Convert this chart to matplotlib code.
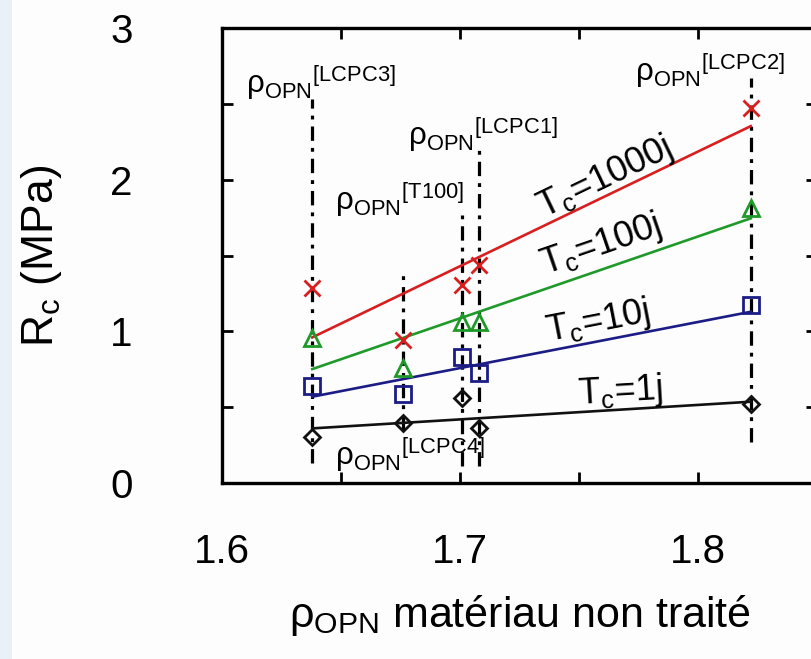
import matplotlib
matplotlib.use("Agg")
import matplotlib.pyplot as plt
from matplotlib.patches import Rectangle
import numpy as np

plt.rcParams['font.family'] = ['Liberation Sans', 'DejaVu Sans']
plt.rcParams['mathtext.fontset'] = 'custom'
plt.rcParams['mathtext.rm'] = 'Liberation Sans'
plt.rcParams['mathtext.it'] = 'Liberation Sans:italic'
plt.rcParams['mathtext.bf'] = 'Liberation Sans:bold'
plt.rcParams['mathtext.sf'] = 'Liberation Sans'

# ---- data ----
rho = [1.638, 1.676, 1.701, 1.708, 1.822]
rc_1000 = [1.283, 0.943, 1.305, 1.437, 2.470]
rc_100 = [0.957, 0.756, 1.063, 1.063, 1.811]
rc_10 = [0.639, 0.587, 0.829, 0.723, 1.173]
rc_1 = [0.305, 0.393, 0.558, 0.365, 0.519]

fit_x = [1.638, 1.822]
fit_1000 = [0.960, 2.353]
fit_100 = [0.751, 1.745]
fit_10 = [0.569, 1.129]
fit_1 = [0.360, 0.536]

series_labels = ['1000j', '100j', '10j', '1j']

vl_x = [1.638, 1.676, 1.701, 1.708, 1.822]
vl_bottom = [0.13, 0.35, 0.11, 0.11, 0.27]
vl_top = [2.53, 1.38, 1.77, 2.21, 2.67]

ref_names = ['LCPC3', 'LCPC4', 'T100', 'LCPC1', 'LCPC2']
ref_x = [1.6417, 1.679, 1.6748, 1.7097, 1.805]
ref_y = [2.643, 0.185, 1.866, 2.30, 2.72]

lab_x = [1.7608, 1.759, 1.758, 1.767]
lab_y = [2.01, 1.569, 1.061, 0.60]

# ---- figure ----
fig = plt.figure(figsize=(8.11, 6.59), dpi=100)
fig.patch.set_facecolor('#fdfdfd')
fig.patches.append(Rectangle((0, 0), 12 / 811, 1, transform=fig.transFigure,
                             facecolor='#e9f0f8', edgecolor='none', zorder=-1))

ax_w = 817.5 - 221.7
ax = fig.add_axes([221.7 / 811, 1 - 483 / 659, ax_w / 811, (483 - 28) / 659])
ax.set_facecolor('#fdfdfd')
ax.set_xlim(1.6, 1.85)
ax.set_ylim(0, 3)

colors = ['#d81e1e', '#1f9a2a', '#1c1c86', '#111111']
fits = [fit_1000, fit_100, fit_10, fit_1]
pts = [rc_1000, rc_100, rc_10, rc_1]
markers = ['x', '^', 's', 'D']
msizes = [11, 12, 11, 8]

for xv, b, t in zip(vl_x, vl_bottom, vl_top):
    ax.plot([xv, xv], [b, t], color='black', lw=2.3,
            dashes=[4.5, 2.2, 1.2, 2.2], zorder=1)

for f, p, c, m, s in zip(fits, pts, colors, markers, msizes):
    ax.plot(fit_x, f, color=c, lw=1.9, zorder=2)
    ax.plot(rho, p, linestyle='none', marker=m, ms=s, mfc='none', mec=c,
            mew=2.0, zorder=3)

fig.canvas.draw()
for f, lbl, lx, ly in zip(fits, series_labels, lab_x, lab_y):
    p0 = ax.transData.transform((fit_x[0], f[0]))
    p1 = ax.transData.transform((fit_x[1], f[1]))
    ang = np.degrees(np.arctan2(p1[1] - p0[1], p1[0] - p0[0]))
    ax.text(lx, ly, r'T$_\mathrm{c}$=' + lbl, fontsize=26, rotation=ang,
            rotation_mode='anchor', ha='center', va='center', color='black')

for name, x, y in zip(ref_names, ref_x, ref_y):
    ax.text(x, y, r'$\mathrm{\rho_{OPN}{}^{[%s]}}$' % name, fontsize=22.5,
            ha='center', va='center', color='black')

ax.set_xticks([1.6, 1.65, 1.7, 1.75, 1.8, 1.85])
ax.set_xticklabels(['1.6', '', '1.7', '', '1.8', ''])
ax.set_yticks([0, 0.5, 1, 1.5, 2, 2.5, 3])
ax.set_yticklabels(['0', '', '1', '', '2', '', '3'])
ax.tick_params(direction='in', length=8, width=2, labelsize=29,
               top=True, right=True)
ax.tick_params(axis='y', pad=64)
ax.tick_params(axis='x', pad=36)
for sp in ax.spines.values():
    sp.set_linewidth(2.4)

ax.set_ylabel(r'R$_\mathrm{c}$ (MPa)', fontsize=32)
ax.set_xlabel(r'$\mathrm{\rho_{OPN}}$ matériau non traité', fontsize=31, labelpad=16)
ax.yaxis.set_label_coords(-(221.7 - 64) / ax_w, 0.5)

fig.savefig('out.png', dpi=100, facecolor=fig.get_facecolor())
